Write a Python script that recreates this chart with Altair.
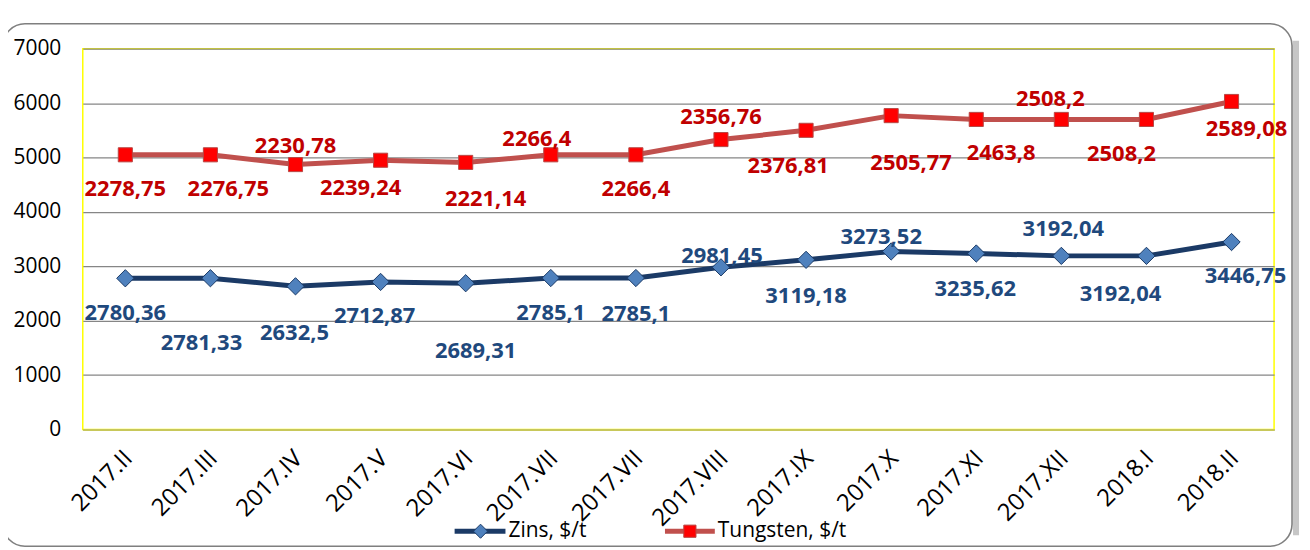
import json
import altair as alt
import pandas as pd

# ---------------- data ----------------
months = ["2017.II", "2017.III", "2017.IV", "2017.V", "2017.VI", "2017.VII", "2017.VII",
          "2017.VIII", "2017.IX", "2017.X", "2017.XI", "2017.XII", "2018.I", "2018.II"]

zinc_values = [2780.36, 2781.33, 2632.5, 2712.87, 2689.31, 2785.1, 2785.1,
               2981.45, 3119.18, 3273.52, 3235.62, 3192.04, 3192.04, 3446.75]
zinc_labels = ["2780,36", "2781,33", "2632,5", "2712,87", "2689,31", "2785,1", "2785,1",
               "2981,45", "3119,18", "3273,52", "3235,62", "3192,04", "3192,04", "3446,75"]

tung_values = [5050, 5050, 4870, 4950, 4910, 5050, 5050,
               5330, 5500, 5770, 5700, 5700, 5700, 6030]
tung_labels = ["2278,75", "2276,75", "2230,78", "2239,24", "2221,14", "2266,4", "2266,4",
               "2356,76", "2376,81", "2505,77", "2463,8", "2508,2", "2508,2", "2589,08"]

series_names = ["Zins, $/t", "Tungsten, $/t"]

# ---------------- layout: label nudges in pixels (dx right, dy down) ----------------
zinc_dx = [0, -9, -1, -6, 10, 0, 0, 1, 0, -10, -1, 2, -26, 14]
zinc_dy = [35, 65, 47, 34, 68, 35, 36, -11, 36, -14, 36, -27, 38, 34]
tung_dx = [0, 18, 0, -20, 20, -14, 0, 0, -18, 20, 25, -11, -25, 15]
tung_dy = [34, 34, -19, 28, 37, -16, 34, -23, 36, 48, 34, -20, 35, 28]

W, H = 1195, 382
N = len(months)
YMAX = 7000
PX_X = W / N          # pixels per category step
PX_Y = H / YMAX       # pixels per unit
FONT = "Open Sans"
ZINC_LINE = "#1B3A66"
ZINC_MARK = "#4F81BD"
ZINC_TEXT = "#1F497D"
TUNG_LINE = "#C0504D"
TUNG_MARK = "#FF0000"
TUNG_TEXT = "#C00000"

df = pd.DataFrame({
    "idx": list(range(N)),
    "month": months,
    "zinc": zinc_values, "zlab": zinc_labels, "zdx": zinc_dx, "zdy": zinc_dy,
    "tung": tung_values, "tlab": tung_labels, "tdx": tung_dx, "tdy": tung_dy,
})

label_expr = json.dumps(months) + "[datum.value]"

xscale = alt.Scale(domain=[-0.5, N - 0.5], nice=False, zero=False)
yscale = alt.Scale(domain=[0, YMAX], nice=False, zero=True)

x_axis = alt.X("idx:Q", scale=xscale, title=None,
               axis=alt.Axis(values=list(range(N)), labelExpr=label_expr, labelAngle=-45,
                             labelAlign="right", labelBaseline="middle", labelFont=FONT,
                             labelFontSize=24, labelColor="#000000", labelPadding=25,
                             labelOffset=3,
                             ticks=False, domainColor="#C8C85A", domainWidth=2, grid=False,
                             labelOverlap=False, labelBound=False, labelFlush=False))
y_axis = alt.Y("zinc:Q", scale=yscale, title=None,
               axis=alt.Axis(values=[0, 1000, 2000, 3000, 4000, 5000, 6000, 7000], format="d",
                             labelFont=FONT, labelFontSize=21, labelColor="#000000",
                             labelPadding=22, ticks=False, domain=False,
                             grid=True, gridColor="#868686", gridWidth=1.3))
X = alt.X("idx:Q", scale=xscale)

one = pd.DataFrame({"a": [0]})

# outer frame + shadow (decoration)
shadow = alt.Chart(one).mark_rule(color="#B8B8B8", strokeWidth=6, opacity=0.8).encode(
    x=alt.value(1217), y=alt.value(-8), y2=alt.value(488))
frame = alt.Chart(one).mark_rect(fill="transparent", stroke="#7F7F7F", strokeWidth=1.6,
                                 cornerRadius=22).encode(
    x=alt.value(-80), x2=alt.value(1213), y=alt.value(-25), y2=alt.value(499))

base = alt.Chart(df)

zinc_line = base.mark_line(color=ZINC_LINE, strokeWidth=5).encode(x=x_axis, y=y_axis)
zinc_pts = base.mark_point(shape="diamond", size=300, filled=True, fill=ZINC_MARK,
                           stroke=ZINC_LINE, strokeWidth=1, opacity=1).encode(
    x=X, y=alt.Y("zinc:Q", scale=yscale))
zinc_txt = base.transform_calculate(
    lx=f"datum.idx + datum.zdx / {PX_X}",
    ly=f"datum.zinc - datum.zdy / {PX_Y}",
).mark_text(font=FONT, fontSize=22, fontWeight="bold", color=ZINC_TEXT,
            baseline="middle", align="center").encode(
    x=alt.X("lx:Q", scale=xscale), y=alt.Y("ly:Q", scale=yscale), text="zlab:N")

tung_line = base.mark_line(color=TUNG_LINE, strokeWidth=5).encode(
    x=X, y=alt.Y("tung:Q", scale=yscale))
tung_pts = base.mark_point(shape="square", size=200, filled=True, fill=TUNG_MARK,
                           stroke="#B84744", strokeWidth=1, opacity=1).encode(
    x=X, y=alt.Y("tung:Q", scale=yscale))
tung_txt = base.transform_calculate(
    lx=f"datum.idx + datum.tdx / {PX_X}",
    ly=f"datum.tung - datum.tdy / {PX_Y}",
).mark_text(font=FONT, fontSize=22, fontWeight="bold", color=TUNG_TEXT,
            baseline="middle", align="center").encode(
    x=alt.X("lx:Q", scale=xscale), y=alt.Y("ly:Q", scale=yscale), text="tlab:N")

# manual legend (decoration)
LY = 484
leg_z_line = alt.Chart(one).mark_rule(color=ZINC_LINE, strokeWidth=5).encode(
    x=alt.value(373), x2=alt.value(424), y=alt.value(LY))
leg_z_pt = alt.Chart(one).mark_point(shape="diamond", size=200, filled=True, fill=ZINC_MARK,
                                     stroke=ZINC_LINE, strokeWidth=1, opacity=1).encode(
    x=alt.value(399), y=alt.value(LY))
leg_z_txt = alt.Chart(one).mark_text(font=FONT, fontSize=21, align="left", baseline="middle",
                                     color="#000000", text=series_names[0]).encode(
    x=alt.value(427), y=alt.value(LY))
leg_t_line = alt.Chart(one).mark_rule(color=TUNG_LINE, strokeWidth=5).encode(
    x=alt.value(584), x2=alt.value(634), y=alt.value(LY))
leg_t_pt = alt.Chart(one).mark_point(shape="square", size=150, filled=True, fill=TUNG_MARK,
                                     stroke="#B84744", strokeWidth=1, opacity=1).encode(
    x=alt.value(609), y=alt.value(LY))
leg_t_txt = alt.Chart(one).mark_text(font=FONT, fontSize=21, align="left", baseline="middle",
                                     color="#000000", text=series_names[1]).encode(
    x=alt.value(637), y=alt.value(LY))

chart = alt.layer(
    shadow, frame,
    zinc_line, tung_line, zinc_pts, tung_pts, zinc_txt, tung_txt,
    leg_z_line, leg_z_pt, leg_z_txt, leg_t_line, leg_t_pt, leg_t_txt,
).properties(
    width=W, height=H,
    autosize=alt.AutoSizeParams(type="none"),
    padding={"left": 75, "top": 40, "right": 28, "bottom": 120},
    background="#FFFFFF",
).configure_view(stroke="#FFFF00", strokeWidth=1.5)

chart.save("out.html", embed_options={"renderer": "svg", "actions": False})
